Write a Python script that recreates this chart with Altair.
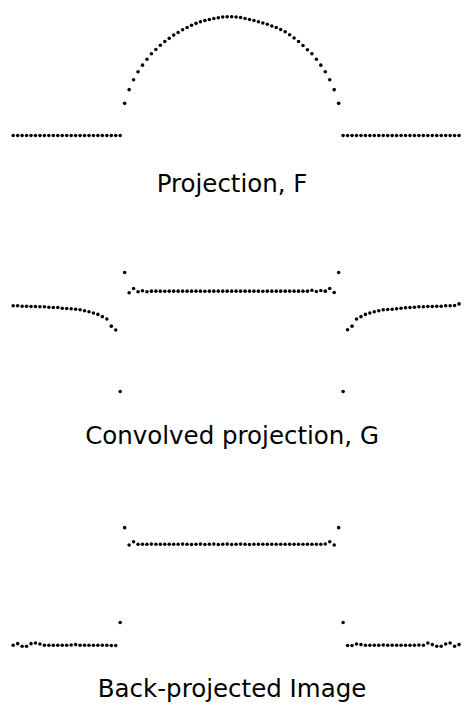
import altair as alt
import pandas as pd

# sample index along the detector
idx = list(range(101))

# Projection F (heights)
F_left = [0.0] * 25
F_arc = [32.7, 46.7, 56.7, 65, 71.7, 77.7, 83.3, 87.7, 92, 95.7,
         99, 102.3, 105, 107.7, 110, 112.3, 114.3, 116, 117.3, 118.3,
         119.3, 120, 120.7, 121, 121,
         120.7, 120.3, 119.3, 118.3, 117.3, 116, 114.7, 113.3, 111.7, 110,
         108, 105.7, 102.7, 99.3, 95.7, 91.7, 87.3, 83.3, 77.7, 71.7,
         65, 56.7, 46.7, 32.7]
F_right = [0.0] * 27

# Convolved projection G
G_left = [-3.3, -3.3, -3.7, -3.7, -4, -4, -4.3, -4.3, -4.7, -5, -5, -5.7,
          -6, -6.3, -6.7, -7.3, -8.3, -9.3, -10.7, -12, -14.3, -16.7, -24, -28]
G_edge_l = [-90.7, 30.7]
G_mid = [10, 14.3, 11, 12, 11,
         11.7, 11.7, 11.7, 11.5, 11.7, 11.7, 11.7, 11.7, 11.7, 11.7,
         11.7, 11.7, 11.5, 11.7, 11.7, 11.7, 11.7, 11.7, 11.7, 11.7,
         11.7, 11.7, 11.7, 11.7, 11.7, 11.5, 11.7, 11.7, 11.7, 11.7,
         11.7, 11.7, 11.7, 11.7, 11.7, 11.7,
         12.5, 11.3, 12.3, 11.7, 14.3, 10.3]
G_edge_r = [30.7, -90.7]
G_right = [-27.7, -24, -16.7, -14.3, -12, -10.7, -9.3, -8.3, -7.3, -7, -6.7,
           -6.3, -5.7, -5.3, -5, -4.7, -4.3, -4.3, -4, -4, -3.7, -3.7, -3.3,
           -3.3, -3, -1.3]

# Back-projected image B
B_left = [0, 1.7, -1, -1, 1.7, 2.3, 1.3, 0, 0, 0, 0, 0, 0, 0.3, 0.7, 0,
          0, 0, 0, 0, 0, 0, -0.3, -0.3]
B_edge_l = [23.3, 120]
B_mid = [102.3, 105.7,
         103, 103, 103, 103.2, 103, 103, 103, 103, 103, 103, 103.2, 103,
         102.8, 103, 103.2, 102.8, 103, 103.2, 102.8, 103, 103.2, 102.8, 103,
         103.2, 103, 102.8, 103, 103, 103, 103, 103, 103, 103, 103, 103,
         103, 103, 103, 103, 103, 103, 103, 103.3,
         105.7, 102.3]
B_edge_r = [120, 23.3]
B_right = [-0.3, -0.3, 1.3, 0.7, 0, 0, 0, 0, 0.3, 0, 0, 0, 0, 0, 0, 0,
           0.3, 0, 2.3, 0.7, -1, -1, 1.3, 2.3, -1, 0.7]

titles = ["Projection, F", "Convolved projection, G", "Back-projected Image"]

F = F_left + F_arc + F_right
G = G_left + G_edge_l + G_mid + G_edge_r + G_right
B = B_left + B_edge_l + B_mid + B_edge_r + B_right

W = 461
PERIOD = 257.5
H3 = 182
X_DOMAIN = [-1.166, 100.22]


def panel(vals, top_value, h, title, offset):
    df = pd.DataFrame({"i": idx, "v": vals})
    return alt.Chart(df).mark_circle(size=13, color="black", opacity=1).encode(
        x=alt.X("i:Q", scale=alt.Scale(domain=X_DOMAIN, nice=False, zero=False), axis=None),
        y=alt.Y("v:Q", scale=alt.Scale(domain=[top_value - h, top_value], nice=False, zero=False), axis=None),
    ).properties(
        width=W, height=h,
        title=alt.TitleParams(title, orient="bottom", baseline="alphabetic", offset=offset,
                              dx=-2, font="DejaVu Sans", fontSize=25,
                              fontWeight="normal", color="black"),
    )


p1 = panel(F, 122, PERIOD, titles[0], 180 - PERIOD)
p2 = panel(G, 34.5, PERIOD, titles[1], 179 - PERIOD)
p3 = panel(B, 126, H3, titles[2], 178.5 - H3)

chart = alt.vconcat(p1, p2, p3, spacing=0).properties(
    padding=0, background="white"
).configure_view(stroke=None)

chart.save("out.html", embed_options={"renderer": "svg", "actions": False})
